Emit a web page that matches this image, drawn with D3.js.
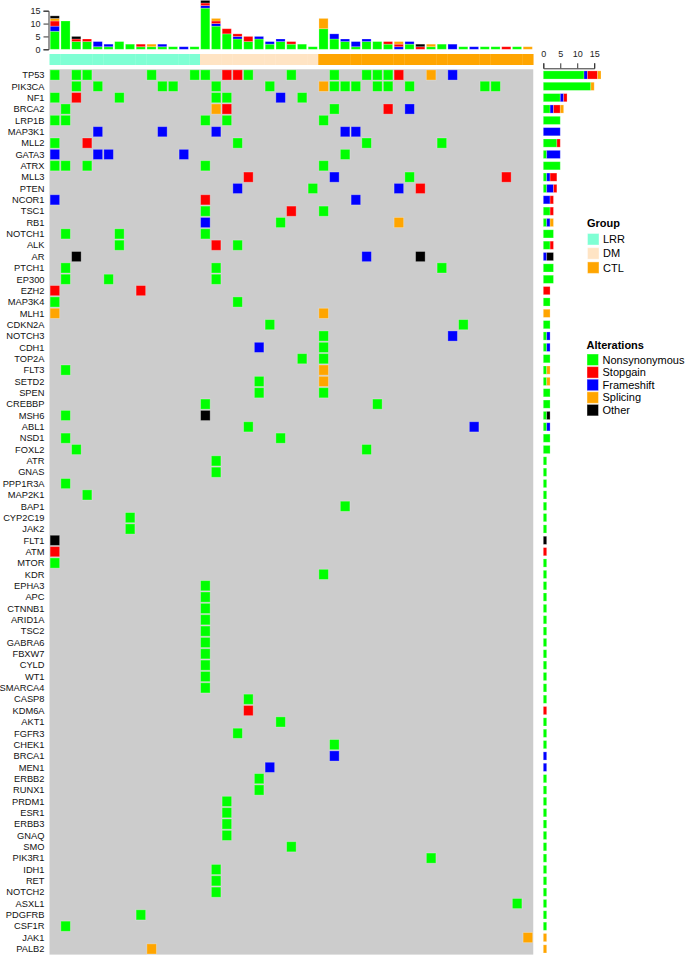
<!DOCTYPE html>
<html><head><meta charset="utf-8">
<script src="https://cdn.jsdelivr.net/npm/d3@7"></script>
<style>
html,body{margin:0;padding:0;background:#fff;}
svg{display:block;font-family:"Liberation Sans",Arial,Helvetica,sans-serif;}
</style></head>
<body><svg id="chart" width="685" height="956"></svg>
<script>
// ---------------- DATA ----------------
const genes = ["TP53","PIK3CA","NF1","BRCA2","LRP1B","MAP3K1","MLL2","GATA3","ATRX","MLL3","PTEN","NCOR1","TSC1","RB1","NOTCH1","ALK","AR","PTCH1","EP300","EZH2","MAP3K4","MLH1","CDKN2A","NOTCH3","CDH1","TOP2A","FLT3","SETD2","SPEN","CREBBP","MSH6","ABL1","NSD1","FOXL2","ATR","GNAS","PPP1R3A","MAP2K1","BAP1","CYP2C19","JAK2","FLT1","ATM","MTOR","KDR","EPHA3","APC","CTNNB1","ARID1A","TSC2","GABRA6","FBXW7","CYLD","WT1","SMARCA4","CASP8","KDM6A","AKT1","FGFR3","CHEK1","BRCA1","MEN1","ERBB2","RUNX1","PRDM1","ESR1","ERBB3","GNAQ","SMO","PIK3R1","IDH1","RET","NOTCH2","ASXL1","PDGFRB","CSF1R","JAK1","PALB2"];

const groupNames = ["LRR","DM","CTL"];
const groupSizes = [14, 11, 20];          // samples per group, left to right
const groupColors = ["#7FFFD4","#FFE4C4","#FFA500"];

const altTypes  = ["Nonsynonymous","Stopgain","Frameshift","Splicing","Other"];
const altColors = ["#00FF00","#FF0000","#0000FF","#FFA500","#000000"];
const stackOrder = ["Nonsynonymous","Frameshift","Stopgain","Splicing","Other"];

// sample (column) indices carrying each alteration, per gene
const nonsynonymous = {
  TP53:[0,2,3,9,13,14,18,22,26,29,30,31], PIK3CA:[2,4,10,11,15,20,26,27,28,30,31,33,40,41],
  NF1:[0,6,15,16,23], BRCA2:[1,26], LRP1B:[0,1,14,16,25], MLL2:[0,17,29,36], GATA3:[27],
  ATRX:[0,1,3,14,25], MLL3:[33], PTEN:[24], TSC1:[14,25], RB1:[21], NOTCH1:[1,6,14],
  ALK:[6,17], PTCH1:[1,15,36], EP300:[1,5,15], MAP3K4:[0,17], CDKN2A:[20,38], NOTCH3:[25],
  CDH1:[25], TOP2A:[23,25], FLT3:[1], SETD2:[19], SPEN:[19,25], CREBBP:[14,30], MSH6:[1],
  ABL1:[18], NSD1:[1,21], FOXL2:[2,29], ATR:[15], GNAS:[15], PPP1R3A:[1], MAP2K1:[3],
  BAP1:[27], CYP2C19:[7], JAK2:[7], MTOR:[0], KDR:[25], EPHA3:[14], APC:[14], CTNNB1:[14],
  ARID1A:[14], TSC2:[14], GABRA6:[14], FBXW7:[14], CYLD:[14], WT1:[14], SMARCA4:[14],
  CASP8:[18], AKT1:[21], FGFR3:[17], CHEK1:[26], ERBB2:[19], RUNX1:[19], PRDM1:[16],
  ESR1:[16], ERBB3:[16], GNAQ:[16], SMO:[22], PIK3R1:[35], IDH1:[15], RET:[15], NOTCH2:[15],
  ASXL1:[43], PDGFRB:[8], CSF1R:[1]
};
const stopgain = {
  TP53:[16,17,32], NF1:[2], BRCA2:[16,31], MLL2:[3], MLL3:[18,42], PTEN:[34], NCOR1:[14],
  TSC1:[22], ALK:[15], EZH2:[0,8], ATM:[0], KDM6A:[18]
};
const frameshift = {
  TP53:[37], NF1:[21], BRCA2:[33], MAP3K1:[4,10,15,27,28], GATA3:[0,4,5,12], MLL3:[26],
  PTEN:[17,32], NCOR1:[0,28], RB1:[14], AR:[29], NOTCH3:[37], CDH1:[19], ABL1:[39],
  BRCA1:[26], MEN1:[20]
};
const splicing = {
  TP53:[35], PIK3CA:[25], BRCA2:[15], RB1:[32], MLH1:[0,25], FLT3:[25], SETD2:[25],
  JAK1:[44], PALB2:[9]
};
const other = { AR:[2,34], MSH6:[14], FLT1:[0] };

const countTicks = [0,5,10,15];

// ---------------- BUILD ----------------
const byType = {Nonsynonymous:nonsynonymous, Stopgain:stopgain, Frameshift:frameshift, Splicing:splicing, Other:other};
const colorOf = d3.scaleOrdinal().domain(altTypes).range(altColors);
const nSamples = d3.sum(groupSizes);
const sampleGroup = [];
groupSizes.forEach((n,i)=>{ for(let k=0;k<n;k++) sampleGroup.push(groupNames[i]); });
const groupColor = d3.scaleOrdinal().domain(groupNames).range(groupColors);

const cells = [];
altTypes.forEach(t=>{
  const m = byType[t];
  Object.keys(m).forEach(g=> m[g].forEach(s=> cells.push({gene:g, sample:s, type:t})));
});

const svg = d3.select("#chart");
const x = d3.scaleBand().domain(d3.range(nSamples)).range([49.5, 533.25]);
const y = d3.scaleBand().domain(genes).range([69.3, 954.6]);
const bw = x.bandwidth(), bh = y.bandwidth();

// grid background
svg.append("rect").attr("x", x.range()[0]).attr("y", y.range()[0])
  .attr("width", x.range()[1]-x.range()[0]).attr("height", y.range()[1]-y.range()[0])
  .attr("fill", "#CCCCCC");

// cells
svg.append("g").selectAll("rect").data(cells).join("rect")
  .attr("x", d=>x(d.sample)+0.6).attr("y", d=>y(d.gene)+0.6)
  .attr("width", bw-1.2).attr("height", bh-1.2)
  .attr("fill", d=>colorOf(d.type))
  .attr("stroke", "#ffffff").attr("stroke-opacity", 0.3).attr("stroke-width", 0.9);

// gene labels
svg.append("g").selectAll("text").data(genes).join("text")
  .attr("x", 44.5).attr("y", d=>y(d)+bh/2).attr("dy","0.35em")
  .attr("text-anchor","end").attr("font-size", 9.3).attr("fill","#111")
  .text(d=>d);

// group bar
svg.append("g").selectAll("rect").data(d3.range(nSamples)).join("rect")
  .attr("x", d=>x(d)).attr("y", 54).attr("width", bw+0.3).attr("height", 11)
  .attr("fill", d=>groupColor(sampleGroup[d]));

// stacked helper
function stacks(keyFn, keys){
  const rows = keys.map(k=>{
    const r = {key:k};
    stackOrder.forEach(t=>{ r[t] = cells.filter(c=>keyFn(c)===k && c.type===t).length; });
    return r;
  });
  return d3.stack().keys(stackOrder)(rows);
}

// top bars (per sample)
const yTop = d3.scaleLinear().domain([0,15]).range([49.3, 10.7]);
const topStack = stacks(c=>c.sample, d3.range(nSamples));
const gTop = svg.append("g");
topStack.forEach(layer=>{
  gTop.append("g").selectAll("rect").data(layer.filter(d=>d[1]>d[0])).join("rect")
    .attr("x", d=>x(d.data.key)+0.7).attr("width", bw-1.6)
    .attr("y", d=>yTop(d[1])).attr("height", d=>yTop(d[0])-yTop(d[1]))
    .attr("fill", colorOf(layer.key))
    .attr("stroke","#ffffff").attr("stroke-opacity",0.3).attr("stroke-width",0.8);
});
const axL = svg.append("g").attr("transform","translate(48.5,0)")
  .call(d3.axisLeft(yTop).tickValues(countTicks).tickSize(5).tickPadding(3));
axL.selectAll("text").attr("font-size",9).attr("font-family","Liberation Sans, Arial, sans-serif").attr("fill","#222");
axL.selectAll("path,line").attr("stroke","#333");

// right bars (per gene)
const xR = d3.scaleLinear().domain([0,15]).range([543.3, 594.2]);
const rStack = stacks(c=>c.gene, genes);
const gR = svg.append("g");
rStack.forEach(layer=>{
  gR.append("g").selectAll("rect").data(layer.filter(d=>d[1]>d[0])).join("rect")
    .attr("y", d=>y(d.data.key)+1.6).attr("height", bh-3.2)
    .attr("x", d=>xR(d[0])).attr("width", d=>xR(d[1])-xR(d[0]))
    .attr("fill", colorOf(layer.key))
    .attr("stroke","#ffffff").attr("stroke-opacity",0.3).attr("stroke-width",0.8);
});
const axT = svg.append("g").attr("transform","translate(0,68.3)")
  .call(d3.axisTop(xR).tickValues(countTicks).tickSize(5).tickPadding(6));
axT.selectAll("text").attr("font-size",9).attr("font-family","Liberation Sans, Arial, sans-serif").attr("fill","#222");
axT.selectAll("path,line").attr("stroke","#333");

// legends
function legend(title, names, colorScale, x0, titleY, firstY, step){
  const g = svg.append("g");
  g.append("text").attr("x", x0).attr("y", titleY).attr("font-size", 11)
    .attr("font-weight","bold").attr("fill","#000").text(title);
  const it = g.selectAll("g.item").data(names).join("g").attr("class","item")
    .attr("transform",(d,i)=>`translate(${x0+0.5},${firstY+i*step})`);
  it.append("rect").attr("width",11.5).attr("height",11.5)
    .attr("fill", d=>colorScale(d)).attr("stroke","#ffffff").attr("stroke-opacity",0.4);
  it.append("text").attr("x",15.5).attr("y",5.8).attr("dy","0.35em").attr("font-size",11)
    .attr("fill","#000").text(d=>d);
}
legend("Group", groupNames, groupColor, 587, 226.5, 233.5, 14.2);
legend("Alterations", altTypes, colorOf, 586.5, 348.5, 354, 12.6);
</script></body></html>
